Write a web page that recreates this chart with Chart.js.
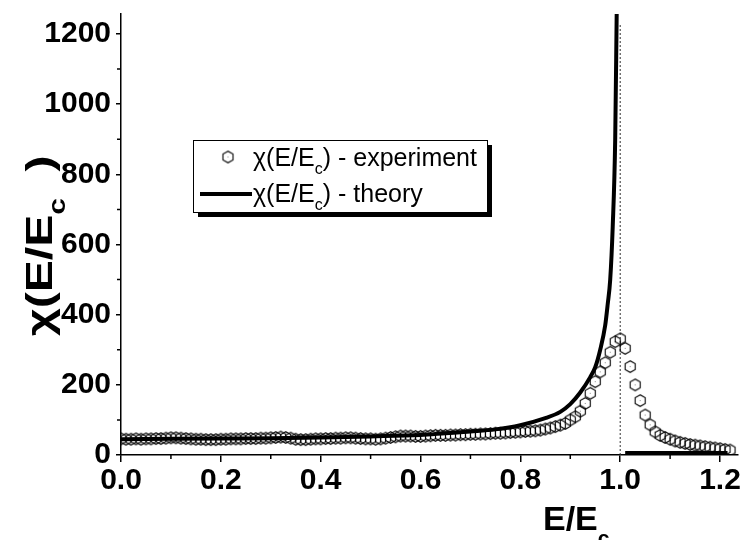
<!DOCTYPE html>
<html>
<head>
<meta charset="utf-8">
<script src="https://cdn.jsdelivr.net/npm/chart.js@4.4.1/dist/chart.umd.min.js"></script>
<style>
  html, body { margin: 0; padding: 0; background: #fff; }
  #wrap { width: 745px; height: 540px; }
</style>
</head>
<body>
<div id="wrap"><canvas id="chiChart" width="745" height="540"></canvas></div>
<script>
// measured susceptibility, one point every 0.01 in E/Ec
const expE = [
  0.00, 0.01, 0.02, 0.03, 0.04, 0.05, 0.06, 0.07, 0.08, 0.09,
  0.10, 0.11, 0.12, 0.13, 0.14, 0.15, 0.16, 0.17, 0.18, 0.19,
  0.20, 0.21, 0.22, 0.23, 0.24, 0.25, 0.26, 0.27, 0.28, 0.29,
  0.30, 0.31, 0.32, 0.33, 0.34, 0.35, 0.36, 0.37, 0.38, 0.39,
  0.40, 0.41, 0.42, 0.43, 0.44, 0.45, 0.46, 0.47, 0.48, 0.49,
  0.50, 0.51, 0.52, 0.53, 0.54, 0.55, 0.56, 0.57, 0.58, 0.59,
  0.60, 0.61, 0.62, 0.63, 0.64, 0.65, 0.66, 0.67, 0.68, 0.69,
  0.70, 0.71, 0.72, 0.73, 0.74, 0.75, 0.76, 0.77, 0.78, 0.79,
  0.80, 0.81, 0.82, 0.83, 0.84, 0.85, 0.86, 0.87, 0.88, 0.89,
  0.90, 0.91, 0.92, 0.93, 0.94, 0.95, 0.96, 0.97, 0.98, 0.99,
  1.00, 1.01, 1.02, 1.03, 1.04, 1.05, 1.06, 1.07, 1.08, 1.09,
  1.10, 1.11, 1.12, 1.13, 1.14, 1.15, 1.16, 1.17, 1.18, 1.19,
  1.20, 1.21, 1.22
];
const expChi = [
  46, 45, 45, 46, 45, 46, 46, 47, 47, 48,
  49, 49, 48, 47, 46, 45, 45, 44, 44, 44,
  45, 45, 46, 46, 46, 47, 47, 47, 48, 48,
  49, 50, 51, 50, 48, 45, 44, 44, 45, 46,
  46, 47, 47, 48, 48, 49, 49, 48, 47, 46,
  46, 45, 46, 48, 50, 52, 54, 54, 54, 53,
  53, 54, 55, 56, 56, 56, 57, 57, 58, 58,
  59, 59, 60, 60, 61, 62, 62, 63, 64, 65,
  66, 67, 68, 69, 71, 74, 77, 81, 85, 90,
  100, 109, 125, 147, 176, 209, 237, 263, 293, 323,
  331, 304, 252, 200, 155, 114, 86, 66, 56, 50,
  45, 40, 36, 33, 30, 28, 26, 24, 22, 20,
  18, 16, 14
];

// theory curve, diverges at E = Ec, flat just above the axis beyond it
const theoryE   = [0, 0.1, 0.2, 0.3, 0.4, 0.5, 0.6, 0.65, 0.7, 0.75, 0.8, 0.85, 0.88, 0.9, 0.92, 0.94, 0.95, 0.96, 0.97, 0.975, 0.98, 0.985, 0.99, 0.993, 1.0, 1.01, 1.215];
const theoryChi = [45, 46, 47, 48, 50, 53, 57, 62, 67, 73, 85, 105, 123, 145, 178, 222, 250, 300, 370, 430, 500, 650, 900, 1260, null, 6, 6];

// dotted marker at E = Ec
const ecLineE = [1.0, 1.0];
const ecLineChi = [0, 1228];

const xTicks = [0.0, 0.2, 0.4, 0.6, 0.8, 1.0, 1.2];
const xMinor = [0.1, 0.3, 0.5, 0.7, 0.9, 1.1];
const yTicks = [0, 200, 400, 600, 800, 1000, 1200];
const yMinor = [100, 300, 500, 700, 900, 1100];

function pairs(xs, ys) {
    return xs.map((v, i) => ({ x: v, y: ys[i] }));
}

// open hexagon symbol like the Origin one
function makeHexagon(r) {
    const c = document.createElement('canvas');
    const size = Math.ceil(r * 2 + 3);
    c.width = size;
    c.height = size;
    const g = c.getContext('2d');
    const cx = size / 2, cy = size / 2;
    g.beginPath();
    for (let k = 0; k < 6; k++) {
        const a = Math.PI / 2 + k * Math.PI / 3;
        const px = cx + r * Math.cos(a);
        const py = cy - r * Math.sin(a);
        if (k === 0) g.moveTo(px, py); else g.lineTo(px, py);
    }
    g.closePath();
    g.strokeStyle = '#000';
    g.lineWidth = 1.1;
    g.stroke();
    g.fillStyle = '#888';
    g.fillRect(cx - 0.5, cy - 0.5, 1, 1);
    return c;
}
const hexagon = makeHexagon(5.8);

function drawRich(ctx, parts, x, y, size, bold, drop) {
    const w = bold ? 'bold ' : '';
    const d = drop === undefined ? 0.3 : drop;
    let cx = x;
    parts.forEach(([text, sub]) => {
        const fs = sub ? Math.round(size * 0.62) : size;
        ctx.font = w + fs + 'px Arial, "Liberation Sans", sans-serif';
        ctx.fillText(text, cx, sub ? y + size * d : y);
        cx += ctx.measureText(text).width;
    });
}

const overlay = {
    id: 'overlay',
    afterDraw(chart) {
        const { ctx, scales: { x, y } } = chart;
        ctx.save();
        ctx.strokeStyle = '#000';
        ctx.lineWidth = 1.5;
        ctx.beginPath();
        xMinor.forEach(v => {
            const px = x.getPixelForValue(v);
            ctx.moveTo(px, x.top);
            ctx.lineTo(px, x.top + 4);
        });
        yMinor.forEach(v => {
            const py = y.getPixelForValue(v);
            ctx.moveTo(y.right, py);
            ctx.lineTo(y.right - 4, py);
        });
        ctx.stroke();

        ctx.fillStyle = '#000';
        ctx.textBaseline = 'alphabetic';
        ctx.textAlign = 'left';

        // axis titles
        drawRich(ctx, [['E/E', false], ['c', true]], 543, 530, 34, true, 0.44);
        ctx.save();
        ctx.translate(52, 336);
        ctx.rotate(-Math.PI / 2);
        ctx.scale(1.3, 1);
        drawRich(ctx, [['\u03C7(E/E', false], ['c', true], ['  )', false]], 0, 0, 37, true, 0.35);
        ctx.restore();

        // legend box with drop shadow
        const bx = 193, by = 140, bw = 294, bh = 72;
        ctx.fillStyle = '#000';
        ctx.fillRect(bx + 5, by + 5, bw, bh);
        ctx.fillStyle = '#fff';
        ctx.fillRect(bx, by, bw, bh);
        ctx.lineWidth = 1;
        ctx.strokeStyle = '#000';
        ctx.strokeRect(bx + 0.5, by + 0.5, bw, bh);

        ctx.drawImage(hexagon, 228 - hexagon.width / 2, 157 - hexagon.height / 2);
        ctx.lineWidth = 4;
        ctx.beginPath();
        ctx.moveTo(200, 194);
        ctx.lineTo(252, 194);
        ctx.stroke();

        ctx.fillStyle = '#000';
        drawRich(ctx, [['\u03C7(E/E', false], ['c', true], [') - experiment', false]], 253, 166, 25, false);
        drawRich(ctx, [['\u03C7(E/E', false], ['c', true], [') - theory', false]], 253, 202, 25, false);
        ctx.restore();
    }
};

const tickFont = { family: 'Arial, "Liberation Sans", sans-serif', size: 30, weight: 'bold' };

new Chart(document.getElementById('chiChart'), {
    type: 'line',
    data: {
        datasets: [
            {
                label: 'theory',
                data: pairs(theoryE, theoryChi),
                borderColor: '#000',
                borderWidth: 4,
                pointRadius: 0,
                cubicInterpolationMode: 'monotone',
                spanGaps: false,
                fill: false
            },
            {
                label: 'experiment',
                data: pairs(expE, expChi),
                showLine: false,
                pointStyle: hexagon,
                pointRadius: 6,
                borderColor: '#000'
            },
            {
                label: 'Ec',
                data: pairs(ecLineE, ecLineChi),
                borderColor: '#333',
                borderWidth: 1,
                borderDash: [2, 2],
                pointRadius: 0
            }
        ]
    },
    options: {
        responsive: false,
        animation: false,
        devicePixelRatio: 1,
        layout: { padding: { top: 14, right: 5, left: 0, bottom: 0 } },
        plugins: {
            legend: { display: false },
            tooltip: { enabled: false }
        },
        scales: {
            x: {
                type: 'linear',
                min: 0,
                max: 1.236,
                afterFit: s => {
                    s.height = 85;
                    s.paddingLeft = 0;
                    s.paddingRight = 0;
                },
                afterBuildTicks: s => { s.ticks = xTicks.map(v => ({ value: v })); },
                border: { color: '#000', width: 1.5 },
                grid: { drawOnChartArea: false, tickLength: 7, color: '#000', lineWidth: 1.5 },
                ticks: {
                    color: '#000',
                    font: tickFont,
                    padding: 1,
                    maxRotation: 0,
                    callback: v => v.toFixed(1)
                }
            },
            y: {
                type: 'linear',
                min: 0,
                max: 1257,
                afterFit: s => {
                    s.width = 121;
                    s.paddingTop = 0;
                    s.paddingBottom = 0;
                },
                afterBuildTicks: s => { s.ticks = yTicks.map(v => ({ value: v })); },
                border: { color: '#000', width: 1.5 },
                grid: { drawOnChartArea: false, tickLength: 5, color: '#000', lineWidth: 1.5 },
                ticks: {
                    color: '#000',
                    font: tickFont,
                    padding: 5,
                    callback: v => String(v)
                }
            }
        }
    },
    plugins: [overlay]
});
</script>
</body>
</html>
